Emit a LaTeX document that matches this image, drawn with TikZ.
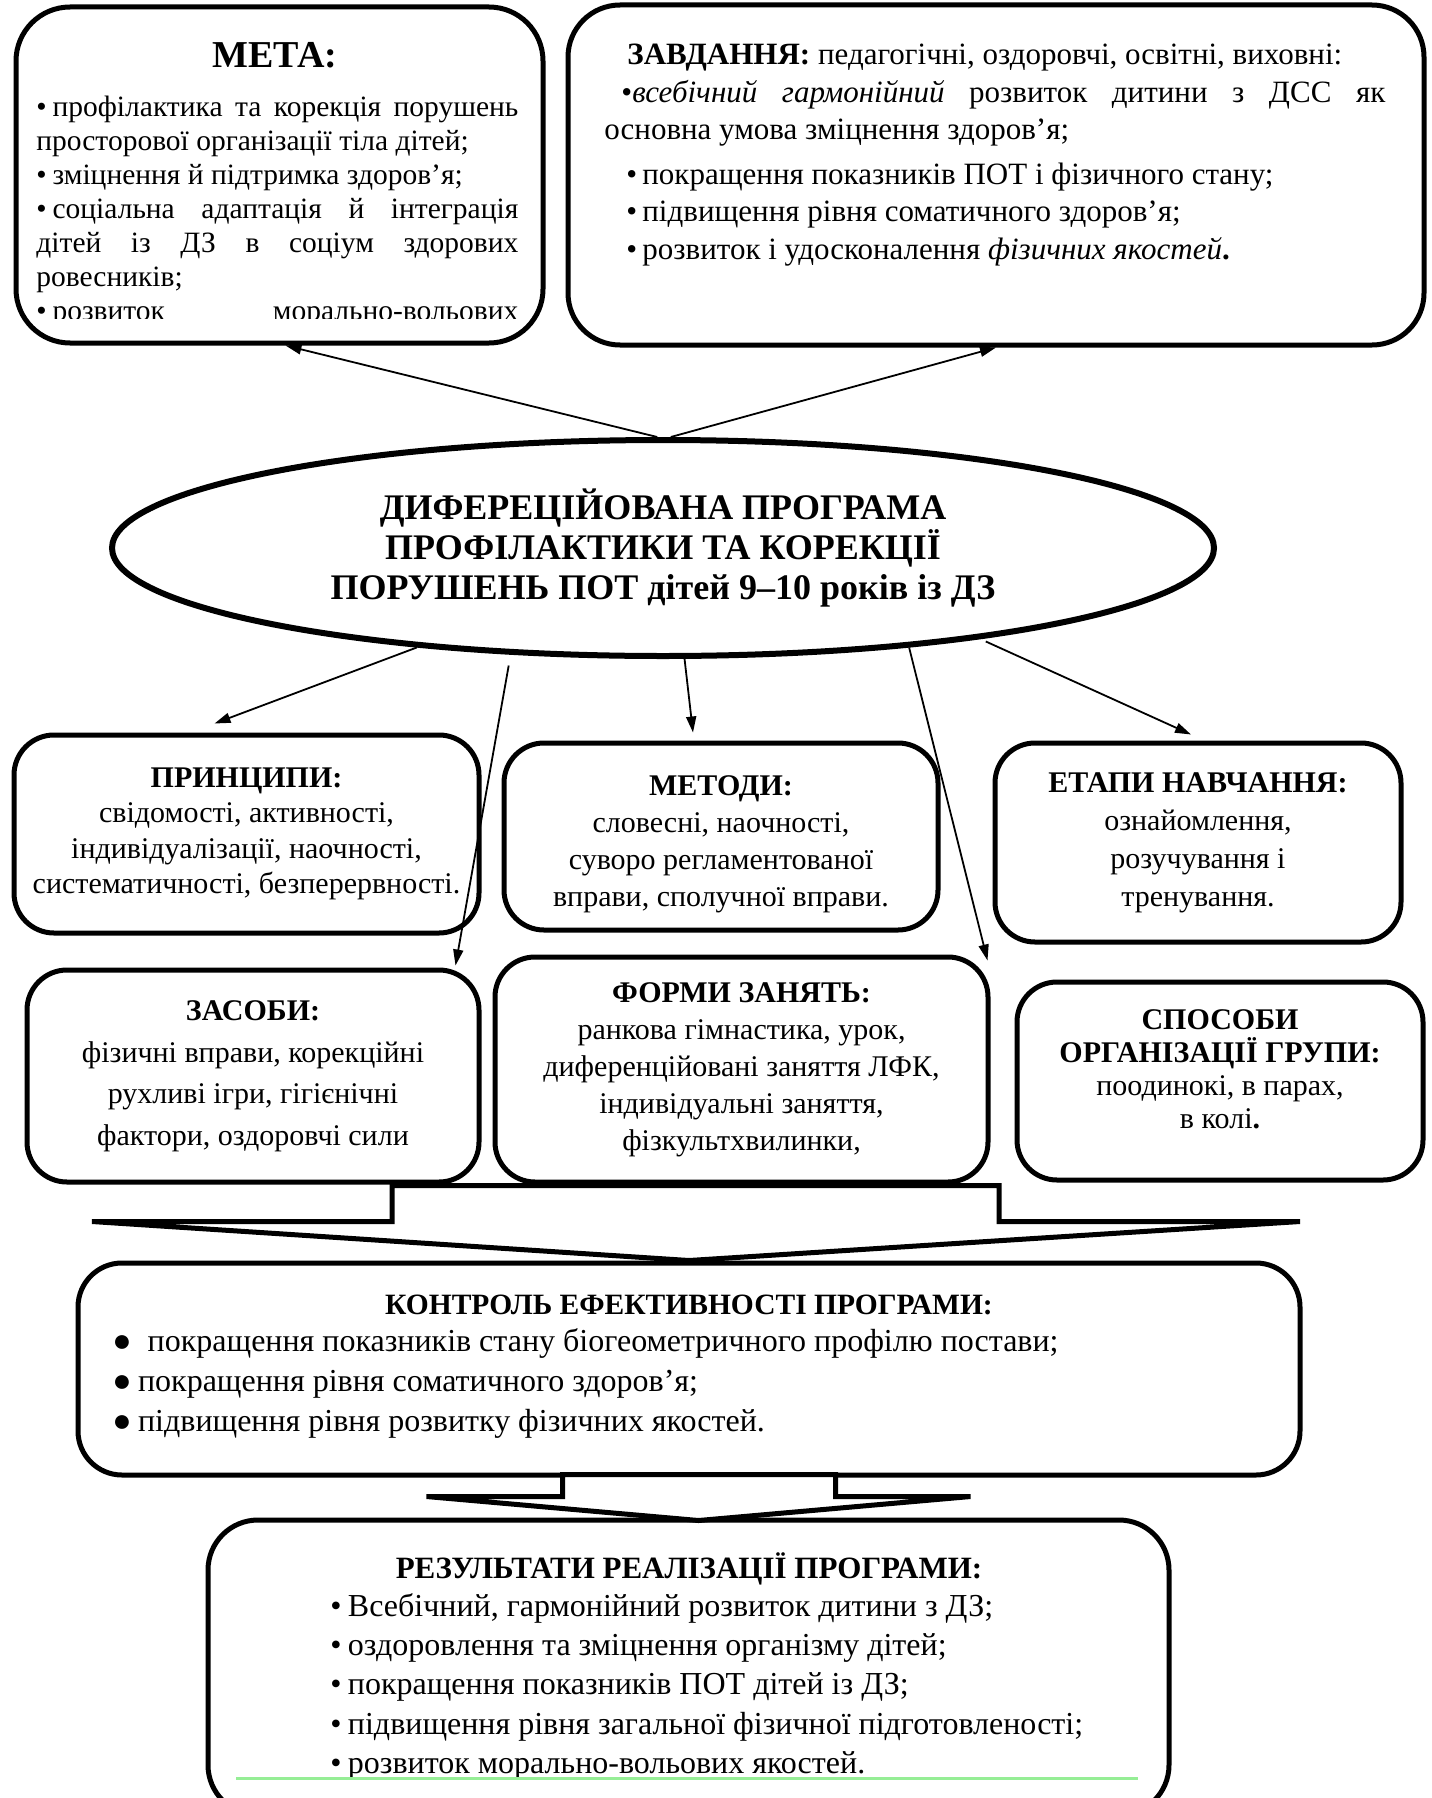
\documentclass[tikz,border=0pt]{standalone}
\usepackage{fontspec}
\setmainfont{Liberation Serif}
\usetikzlibrary{arrows.meta,positioning,shapes.geometric,calc}
\definecolor{softgreen}{RGB}{150,238,150}
\newcommand{\natsp}{\spaceskip=.25em plus .12em minus .08em\relax}
\newcommand{\jl}[2][\linewidth]{\makebox[#1][s]{\spaceskip=.25em plus 1fil\relax #2}}

\begin{document}
\begin{tikzpicture}[x=0.5pt, y=-0.5pt,
		every node/.style={font=\fontsize{15}{18}\selectfont, inner sep=0pt},
		panel/.style={draw, line width=2.5pt, rounded corners=20pt, align=center},
		arr/.style={-{Triangle[length=8pt, width=5pt]}, line width=0.9pt},
		bigarrow/.style={draw, line width=2.5pt, fill=white, line join=miter}]
	\useasboundingbox (0,0) rectangle (1431,1798);
	% goal and tasks
	\node[panel, rounded corners=27pt, minimum width=263.5pt, minimum height=168pt] (meta) at (279.5,175) {};
	\node[font=\bfseries\fontsize{19}{22}\selectfont, anchor=base] (metahead) at (275,68) {МЕТА:};
	\begin{scope}
		\clip (20,80) rectangle (540,318);
		\node[anchor=base west, text width=241pt, font=\fontsize{14.75}{17}\selectfont] (metabody) at (36,117) {\natsp
			\jl{•\hspace{0.2em}профілактика та корекція порушень}\\
			просторової організації тіла дітей;\\
			•\hspace{0.2em}зміцнення й підтримка здоров’я;\\
			\jl{•\hspace{0.2em}соціальна адаптація й інтеграція}\\
			\jl{дітей із ДЗ в соціум здорових}\\
			ровесників;\\
			\jl{•\hspace{0.2em}розвиток морально-вольових}};
	\end{scope}
	\node[panel, rounded corners=26pt, minimum width=428pt, minimum height=170pt, right=10pt of meta] (task) {};
	\node[anchor=base west, text width=390.5pt, font=\fontsize{15.5}{18.75}\selectfont] (taskbody) at (604,65) {\natsp
		\hspace*{11.5pt}\textbf{ЗАВДАННЯ:} педагогічні, оздоровчі, освітні, виховні:\\
		\hspace*{8.5pt}\jl[382pt]{•\textit{всебічний гармонійний} розвиток дитини з ДСС як}\\
		основна умова зміцнення здоров’я;\\[3.5pt]
		\hspace*{11pt}•\,покращення показників ПОТ і фізичного стану;\\
		\hspace*{11pt}•\,підвищення рівня соматичного здоров’я;\\
		\hspace*{11pt}•\,розвиток і удосконалення \textit{фізичних якостей}\textbf{.}};
	% the programme
	\node[ellipse, draw, line width=3pt, minimum width=551pt, minimum height=108pt, align=center,
		font=\bfseries\fontsize{18}{20}\selectfont] (prog) at (663,548)
		{ДИФЕРЕЦІЙОВАНА ПРОГРАМА\\ПРОФІЛАКТИКИ ТА КОРЕКЦІЇ\\ПОРУШЕНЬ ПОТ дітей 9–10 років із ДЗ};
	% components
	\node[panel, minimum width=232.5pt, minimum height=99pt, font=\fontsize{15}{17.75}\selectfont] (princ) at (246.5,834)
		{\textbf{ПРИНЦИПИ:}\\свідомості, активності,\\індивідуалізації, наочності,\\систематичності, безперервності.};
	\node[panel, minimum width=217pt, minimum height=93.5pt] (meth) at (721,836.5) {};
	\node[align=center, font=\fontsize{15}{18.5}\selectfont] (methtext) at ($(meth.center)+(0,7.5)$)
		{\textbf{МЕТОДИ:}\\словесні, наочності,\\суворо регламентованої\\вправи, сполучної вправи.};
	\node[panel, minimum width=203pt, minimum height=99.5pt, font=\fontsize{15}{19}\selectfont] (stages) at (1198,842.5)
		{\textbf{ЕТАПИ НАВЧАННЯ:}\\ознайомлення,\\розучування і\\тренування.};
	\node[panel, minimum width=226pt, minimum height=106pt, font=\fontsize{15}{20.75}\selectfont] (means) at (253,1076)
		{\textbf{ЗАСОБИ:}\\фізичні вправи, корекційні\\рухливі ігри, гігієнічні\\фактори, оздоровчі сили};
	\node[panel, minimum width=246.5pt, minimum height=112.5pt, font=\fontsize{15}{18.5}\selectfont] (forms) at (741.5,1069.5)
		{\textbf{ФОРМИ ЗАНЯТЬ:}\\ранкова гімнастика, урок,\\диференційовані заняття ЛФК,\\індивідуальні заняття,\\фізкультхвилинки,};
	\node[panel, minimum width=203pt, minimum height=99pt] (ways) at (1220,1081) {};
	\node[align=center, font=\fontsize{15}{16.5}\selectfont] (waystext) at ($(ways.center)+(0,-12)$)
		{\textbf{СПОСОБИ}\\\textbf{ОРГАНІЗАЦІЇ ГРУПИ:}\\поодинокі, в парах,\\в колі\textbf{.}};
	% control and results
	\node[panel, rounded corners=22pt, minimum width=611pt, minimum height=106pt] (ctrl) at (689,1369) {};
	\node[font=\bfseries\fontsize{14.75}{18}\selectfont, anchor=base] (ctrlhead) at (689,1314) {КОНТРОЛЬ ЕФЕКТИВНОСТІ ПРОГРАМИ:};
	\node[anchor=base west, text width=580pt, font=\fontsize{16}{20}\selectfont] (ctrlbody) at (112,1351) {\natsp
		●\hspace{0.5em}покращення показників стану біогеометричного профілю постави;\\
		●\hspace{0.2em}покращення рівня соматичного здоров’я;\\
		●\hspace{0.2em}підвищення рівня розвитку фізичних якостей.};
	\node[panel, rounded corners=25pt, minimum width=480.5pt, minimum height=147.5pt] (res) at (688.5,1667.5) {};
	\node[font=\bfseries\fontsize{15.5}{18}\selectfont, anchor=base] (reshead) at (689,1578) {РЕЗУЛЬТАТИ РЕАЛІЗАЦІЇ ПРОГРАМИ:};
	\node[anchor=base west, text width=420pt, font=\fontsize{16}{19.6}\selectfont] (resbody) at (330,1616.5) {\natsp
		•\hspace{0.2em}Всебічний, гармонійний розвиток дитини з ДЗ;\\
		•\hspace{0.2em}оздоровлення та зміцнення організму дітей;\\
		•\hspace{0.2em}покращення показників ПОТ дітей із ДЗ;\\
		•\hspace{0.2em}підвищення рівня загальної фізичної підготовленості;\\
		•\hspace{0.2em}розвиток морально-вольових якостей.};
	\draw[softgreen, line width=1.5pt] (236,1778) -- (1138,1778);
	% arrows out of the programme
	\draw[arr] (prog.93) -- (meta.272);
	\draw[arr] (prog.86) -- (task.south);
	\draw[arr] (prog.202) -- ($(princ.north)+(-32,-9)$);
	\draw[arr, shorten <=5.5pt] (prog.215.5) -- ($(means.north east)+(-26,-2)$);
	\draw[arr] (prog.281) -- ($(meth.north)+(-28,-8)$);
	\draw[arr] (prog.338.7) -- ($(forms.north east)+(-3,6)$);
	\draw[arr, shorten <=3pt] (prog.344.5) -- ($(stages.north)+(-7,-6)$);
	% block arrows
	\draw[bigarrow] (ctrl.north) -- ++(-597,-39) -- ++(300,0) -- ++(0,-36) -- ++(607,0) -- ++(0,36) -- ++(301,0) -- cycle;
	\draw[bigarrow] ($(res.north)+(10,3)$) -- ++(-272,-24) -- ++(136,0) -- ++(0,-22) -- ++(273,0) -- ++(0,22) -- ++(135,0) -- cycle;
\end{tikzpicture}
\end{document}
